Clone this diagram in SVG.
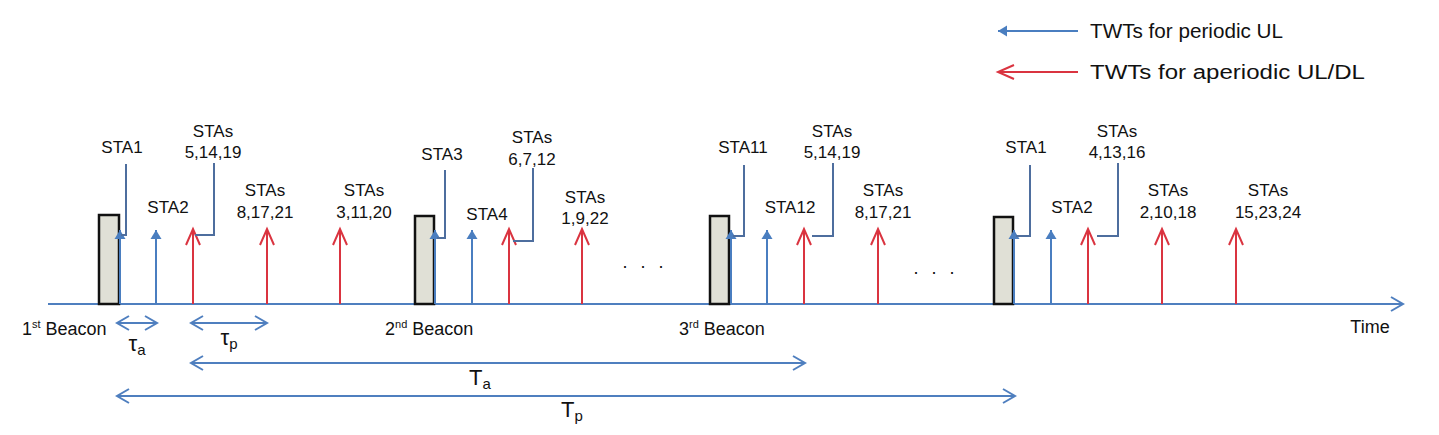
<svg xmlns="http://www.w3.org/2000/svg" width="1439" height="435" viewBox="0 0 1439 435">
<style>
  text { font-family: "Liberation Sans", Arial, sans-serif; fill: #111; }
  .lbl { font-size: 17px; text-anchor: middle; }
  .big { font-size: 18px; }
  .leg { font-size: 20px; }
  .sym { font-size: 22px; text-anchor: middle; }
  .sub { font-size: 15px; }
  .axis { stroke: #4F7FBF; stroke-width: 2; fill: none; }
  .blue { stroke: #4A7EC0; stroke-width: 2; fill: none; }
  .red { stroke: #DA3440; stroke-width: 2; fill: none; }
  .conn { stroke: #4E6E9E; stroke-width: 2; fill: none; }
  .span { stroke: #4F7FBF; stroke-width: 2; fill: none; }
  .beacon { fill: #E0E0D6; stroke: #111; stroke-width: 2.5; }
</style>
<defs>
  <marker id="tri" markerUnits="userSpaceOnUse" markerWidth="12" markerHeight="12" refX="9" refY="5.5" orient="auto" overflow="visible">
    <path d="M0,0 L9,5.5 L0,11 z" fill="#4A7EC0"/>
  </marker>
  <marker id="vred" markerUnits="userSpaceOnUse" markerWidth="18" markerHeight="16" refX="16" refY="7" orient="auto" overflow="visible">
    <path d="M0,0 L16,7 L0,14" fill="none" stroke="#DA3440" stroke-width="2"/>
  </marker>
  <marker id="vblue" markerUnits="userSpaceOnUse" markerWidth="14" markerHeight="16" refX="12" refY="7" orient="auto-start-reverse" overflow="visible">
    <path d="M0,0 L12,7 L0,14" fill="none" stroke="#4F7FBF" stroke-width="2"/>
  </marker>
</defs>

<g id="legend">
  <line class="blue" x1="1078" y1="31" x2="998" y2="31" marker-end="url(#tri)"/>
  <text class="leg" x="1090" y="38" textLength="193" lengthAdjust="spacingAndGlyphs">TWTs for periodic UL</text>
  <line class="red" x1="1078" y1="72" x2="998" y2="72" marker-end="url(#vred)"/>
  <text class="leg" x="1090" y="79" textLength="275" lengthAdjust="spacingAndGlyphs">TWTs for aperiodic UL/DL</text>
</g>

<g id="time-axis">
  <line class="axis" x1="48" y1="304" x2="1403" y2="304" marker-end="url(#vblue)"/>
  <text class="big" x="1370" y="333" text-anchor="middle">Time</text>
</g>

<g id="beacon1">
  <rect class="beacon" x="99" y="215" width="20" height="89"/>
  <text class="big" x="22" y="335">1<tspan font-size="11" dy="-7">st</tspan><tspan dy="7"> Beacon</tspan></text>
</g>
<g id="beacon2">
  <rect class="beacon" x="415" y="216" width="19" height="88"/>
  <text class="big" x="385" y="335">2<tspan font-size="11" dy="-7">nd</tspan><tspan dy="7"> Beacon</tspan></text>
</g>
<g id="beacon3">
  <rect class="beacon" x="710" y="216" width="19" height="88"/>
  <text class="big" x="679" y="335">3<tspan font-size="11" dy="-7">rd</tspan><tspan dy="7"> Beacon</tspan></text>
</g>
<g id="beacon4">
  <rect class="beacon" x="994" y="217" width="19" height="87"/>
</g>

<g id="connectors">
  <!-- period 1 -->
  <line class="blue" x1="120" y1="304" x2="120" y2="230" marker-end="url(#tri)"/>
  <line class="blue" x1="156" y1="304" x2="156" y2="230" marker-end="url(#tri)"/>
  <line class="red" x1="193" y1="304" x2="193" y2="229" marker-end="url(#vred)"/>
  <line class="red" x1="267" y1="304" x2="267" y2="229" marker-end="url(#vred)"/>
  <line class="red" x1="340" y1="304" x2="340" y2="229" marker-end="url(#vred)"/>
  <polyline class="conn" points="126,164 126,235 121,235"/>
  <polyline class="conn" points="214,163 214,235 195,235"/>
  <!-- period 2 -->
  <line class="blue" x1="435" y1="304" x2="435" y2="230" marker-end="url(#tri)"/>
  <line class="blue" x1="472" y1="304" x2="472" y2="230" marker-end="url(#tri)"/>
  <line class="red" x1="509" y1="304" x2="509" y2="229" marker-end="url(#vred)"/>
  <line class="red" x1="582" y1="304" x2="582" y2="229" marker-end="url(#vred)"/>
  <polyline class="conn" points="445,170 445,238 437,238"/>
  <polyline class="conn" points="533,168 533,241 513,241"/>
  <!-- period 3 -->
  <line class="blue" x1="731" y1="304" x2="731" y2="230" marker-end="url(#tri)"/>
  <line class="blue" x1="767" y1="304" x2="767" y2="230" marker-end="url(#tri)"/>
  <line class="red" x1="804" y1="304" x2="804" y2="229" marker-end="url(#vred)"/>
  <line class="red" x1="878" y1="304" x2="878" y2="229" marker-end="url(#vred)"/>
  <polyline class="conn" points="744,165 744,236 733,236"/>
  <polyline class="conn" points="833,163 833,236 812,236"/>
  <!-- period 4 -->
  <line class="blue" x1="1014" y1="304" x2="1014" y2="230" marker-end="url(#tri)"/>
  <line class="blue" x1="1051" y1="304" x2="1051" y2="230" marker-end="url(#tri)"/>
  <line class="red" x1="1088" y1="304" x2="1088" y2="229" marker-end="url(#vred)"/>
  <line class="red" x1="1162" y1="304" x2="1162" y2="229" marker-end="url(#vred)"/>
  <line class="red" x1="1236" y1="304" x2="1236" y2="229" marker-end="url(#vred)"/>
  <polyline class="conn" points="1030,165 1030,236 1016,236"/>
  <polyline class="conn" points="1118,163 1118,236 1097,236"/>
  <!-- spans -->
  <line class="span" x1="117" y1="323" x2="157" y2="323" marker-start="url(#vblue)" marker-end="url(#vblue)"/>
  <line class="span" x1="191" y1="323" x2="267" y2="323" marker-start="url(#vblue)" marker-end="url(#vblue)"/>
  <line class="span" x1="191" y1="363" x2="805" y2="363" marker-start="url(#vblue)" marker-end="url(#vblue)"/>
  <line class="span" x1="117" y1="396" x2="1015" y2="396" marker-start="url(#vblue)" marker-end="url(#vblue)"/>
</g>

<g id="labels-period1">
  <text class="lbl" x="122" y="153">STA1</text>
  <text class="lbl" x="168" y="213">STA2</text>
  <text class="lbl" x="213" y="137">STAs<tspan x="213" y="158">5,14,19</tspan></text>
  <text class="lbl" x="265" y="196">STAs<tspan x="265" y="218">8,17,21</tspan></text>
  <text class="lbl" x="364" y="196">STAs<tspan x="364" y="218">3,11,20</tspan></text>
</g>
<g id="labels-period2">
  <text class="lbl" x="442" y="160">STA3</text>
  <text class="lbl" x="487" y="220">STA4</text>
  <text class="lbl" x="532" y="143">STAs<tspan x="532" y="165">6,7,12</tspan></text>
  <text class="lbl" x="585" y="203">STAs<tspan x="585" y="224">1,9,22</tspan></text>
  <text class="big" x="645" y="268" text-anchor="middle" letter-spacing="4">. . .</text>
</g>
<g id="labels-period3">
  <text class="lbl" x="743" y="153">STA11</text>
  <text class="lbl" x="790" y="213">STA12</text>
  <text class="lbl" x="832" y="137">STAs<tspan x="832" y="158">5,14,19</tspan></text>
  <text class="lbl" x="883" y="196">STAs<tspan x="883" y="218">8,17,21</tspan></text>
  <text class="big" x="936" y="274" text-anchor="middle" letter-spacing="4">. . .</text>
</g>
<g id="labels-period4">
  <text class="lbl" x="1026" y="153">STA1</text>
  <text class="lbl" x="1072" y="213">STA2</text>
  <text class="lbl" x="1117" y="137">STAs<tspan x="1117" y="158">4,13,16</tspan></text>
  <text class="lbl" x="1168" y="196">STAs<tspan x="1168" y="218">2,10,18</tspan></text>
  <text class="lbl" x="1268" y="196">STAs<tspan x="1268" y="218">15,23,24</tspan></text>
</g>

<g id="span-labels">
  <text class="sym" x="137" y="351">τ<tspan class="sub" dy="4">a</tspan></text>
  <text class="sym" x="229" y="345">τ<tspan class="sub" dy="4">p</tspan></text>
  <text class="sym" x="480" y="385">T<tspan class="sub" dy="4">a</tspan></text>
  <text class="sym" x="572" y="417">T<tspan class="sub" dy="4">p</tspan></text>
</g>
</svg>
